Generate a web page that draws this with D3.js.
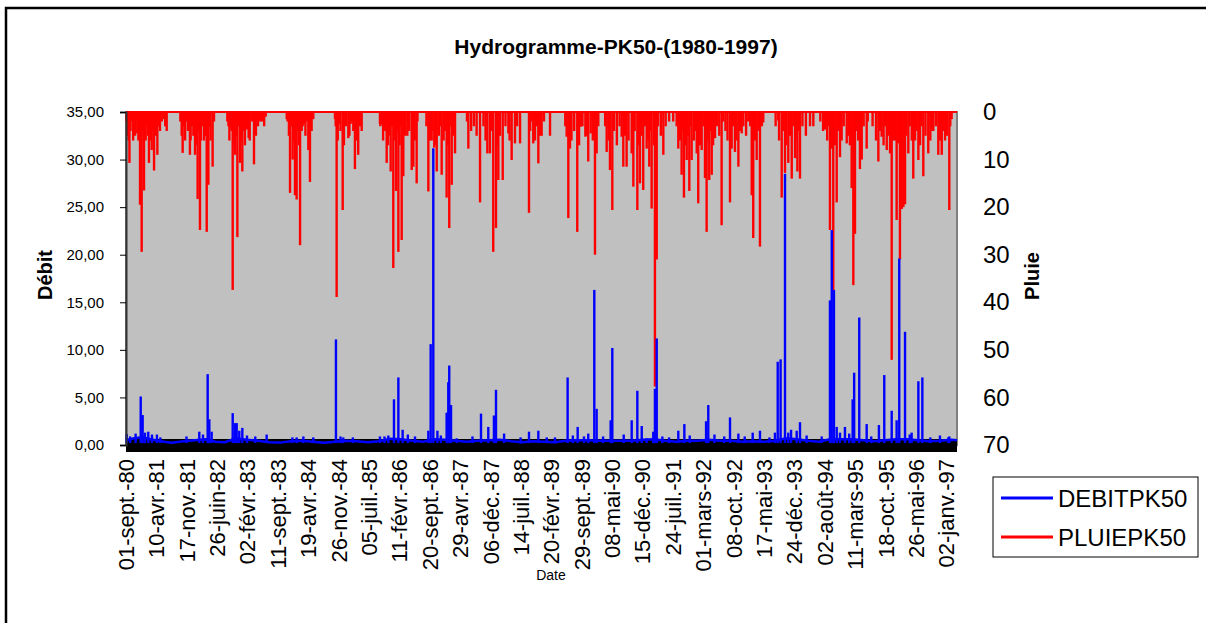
<!DOCTYPE html>
<html>
<head>
<meta charset="utf-8">
<script src="https://cdn.jsdelivr.net/npm/d3@7"></script>
<style>
  body { margin: 0; background: #fff; }
  svg { display: block; font-family: "Liberation Sans", Arial, sans-serif; }
</style>
</head>
<body>
<svg id="chart" width="1206" height="623"></svg>
<script>
// période des données (jours comptés depuis le 01/09/1980)
const debut = new Date(1980, 8, 1);
const fin = new Date(1997, 2, 20);
const pasEtiquettes = 221;

const etiquettesDates = [
  '01-sept.-80', '10-avr.-81', '17-nov.-81', '26-juin-82', '02-févr.-83', '11-sept.-83', '19-avr.-84',
  '26-nov.-84', '05-juil.-85', '11-févr.-86', '20-sept.-86', '29-avr.-87', '06-déc.-87', '14-juil.-88',
  '20-févr.-89', '29-sept.-89', '08-mai-90', '15-déc.-90', '24-juil.-91', '01-mars-92', '08-oct.-92',
  '17-mai-93', '24-déc.-93', '02-août-94', '11-mars-95', '18-oct.-95', '26-mai-96', '02-janv.-97',
];
const debitTicks = [0, 5, 10, 15, 20, 25, 30, 35];
const pluieTicks = [0, 10, 20, 30, 40, 50, 60, 70];

// débit de base (étiage), [jour, m3/s]
const debitBase = [
  [0, 0.5], [60, 0.7], [120, 0.8], [180, 0.6], [250, 0.4], [330, 0.25], [420, 0.4], [500, 0.5], [580, 0.6],
  [650, 0.35], [720, 0.3], [800, 0.7], [880, 0.55], [960, 0.45], [1040, 0.3], [1120, 0.25], [1200, 0.4],
  [1280, 0.45], [1360, 0.35], [1440, 0.25], [1520, 0.35], [1600, 0.45], [1680, 0.4], [1760, 0.3],
  [1840, 0.4], [1920, 0.65], [2000, 0.6], [2080, 0.45], [2160, 0.35], [2240, 0.6], [2320, 0.55],
  [2400, 0.45], [2480, 0.35], [2560, 0.45], [2640, 0.5], [2720, 0.55], [2800, 0.4], [2880, 0.3],
  [2960, 0.4], [3040, 0.35], [3120, 0.3], [3200, 0.45], [3280, 0.5], [3360, 0.5], [3440, 0.45],
  [3520, 0.45], [3600, 0.45], [3680, 0.45], [3760, 0.55], [3840, 0.6], [3920, 0.45], [4000, 0.35],
  [4080, 0.45], [4160, 0.45], [4240, 0.55], [4320, 0.45], [4400, 0.45], [4480, 0.35], [4560, 0.4],
  [4640, 0.35], [4720, 0.45], [4800, 0.7], [4880, 0.6], [4960, 0.45], [5040, 0.35], [5120, 0.6],
  [5200, 0.6], [5280, 0.6], [5360, 0.5], [5440, 0.4], [5520, 0.5], [5600, 0.6], [5680, 0.6],
  [5760, 0.5], [5840, 0.4], [5920, 0.45], [6000, 0.55], [6044, 0.5],
];

// crues, [jour, m3/s]
const debitPics = [
  [5, 1.15], [30, 0.9], [70, 1.2], [107, 5.1], [121, 3.15], [138, 1.3], [162, 1.4], [189, 1.1], [225, 1.1],
  [250, 0.8], [440, 0.9], [533, 1.4], [560, 1.1], [594, 7.45], [606, 2.7], [623, 1.4], [776, 3.35],
  [793, 2.3], [805, 2.3], [824, 1.5], [846, 1.8], [880, 1.0], [940, 0.9], [1023, 1.1], [1210, 0.8],
  [1241, 0.8], [1290, 0.9], [1362, 0.8], [1527, 11.1], [1560, 0.9], [1580, 0.8], [1650, 0.8],
  [1847, 0.9], [1880, 0.9], [1908, 1.0], [1949, 4.8], [1981, 7.1], [2012, 1.6], [2050, 1.1],
  [2102, 0.9], [2199, 1.5], [2216, 10.6], [2235, 31.2], [2265, 1.5], [2290, 1.0], [2332, 3.4],
  [2344, 6.6], [2351, 8.35], [2364, 4.2], [2405, 0.7], [2520, 0.9], [2582, 3.3], [2635, 1.9],
  [2676, 3.1], [2691, 5.8], [2750, 1.2], [2870, 0.8], [2931, 1.4], [2999, 1.5], [3060, 0.8],
  [3120, 0.8], [3212, 7.1], [3250, 1.0], [3285, 1.9], [3331, 0.9], [3362, 1.2], [3406, 16.3],
  [3423, 3.8], [3470, 0.9], [3525, 2.6], [3537, 10.2], [3620, 1.1], [3678, 2.6], [3719, 5.7],
  [3751, 2.0], [3787, 0.7], [3835, 1.4], [3847, 5.9], [3860, 11.2], [3901, 0.9], [3950, 0.8],
  [4017, 1.5], [4061, 2.2], [4100, 1.0], [4219, 2.5], [4235, 4.2], [4280, 1.1], [4351, 0.9],
  [4393, 2.9], [4454, 1.2], [4500, 0.9], [4558, 1.3], [4611, 1.5], [4680, 0.8], [4720, 1.3],
  [4740, 8.75], [4761, 9.0], [4793, 28.5], [4817, 1.3], [4837, 1.6], [4878, 1.5], [4902, 2.4],
  [4950, 1.0], [5060, 0.9], [5120, 15.2], [5133, 22.6], [5149, 16.3], [5169, 1.9], [5193, 1.3],
  [5229, 1.9], [5260, 1.2], [5285, 4.8], [5296, 7.6], [5333, 13.4], [5387, 2.2], [5420, 0.9],
  [5476, 2.1], [5515, 7.35], [5569, 3.6], [5605, 2.6], [5624, 19.6], [5666, 11.9], [5700, 1.1],
  [5714, 1.3], [5763, 6.7], [5792, 7.1], [5850, 0.8], [5920, 1.0], [5981, 0.8], [5988, 0.9],
];

// pluies journalières marquées, [jour, mm]
const pluieFortes = [
  [25, 10.7], [46, 1], [82, 4.5], [102, 19.5], [114, 29.4], [131, 16.5], [155, 3], [167, 10.7], [187, 8],
  [204, 12.3], [228, 9], [247, 4], [296, 4], [412, 8.6], [465, 9], [502, 9], [521, 18.3], [538, 24.8],
  [567, 6], [587, 25.2], [599, 15.3], [630, 11.5], [737, 2], [761, 3.5], [776, 37.4], [793, 9],
  [810, 26.3], [829, 10.7], [846, 12.5], [878, 3.7], [892, 5.5], [931, 11], [975, 2], [1016, 1],
  [1169, 1.5], [1193, 17], [1212, 10], [1229, 17.5], [1241, 18.4], [1266, 28], [1278, 4], [1295, 2.5],
  [1326, 8], [1338, 14.7], [1362, 1.5], [1520, 1.5], [1532, 38.9], [1551, 2.5], [1576, 20.6],
  [1593, 2.2], [1617, 5.5], [1634, 2.5], [1653, 4], [1665, 12], [1689, 9], [1714, 4], [1847, 2.5],
  [1860, 2.6], [1884, 4], [1896, 10.7], [1925, 12.5], [1944, 32.8], [1964, 16.6], [1981, 29.4],
  [2005, 26.9], [2017, 13.5], [2046, 5], [2078, 12.2], [2090, 11.5], [2114, 15], [2199, 16.7],
  [2223, 6], [2242, 7.5], [2260, 12.5], [2296, 13.2], [2332, 18], [2351, 24.4], [2369, 15.3],
  [2393, 8.7], [2490, 7.7], [2575, 19], [2628, 8.7], [2647, 8.7], [2671, 29.4], [2691, 24.4],
  [2708, 14.3], [2740, 14.3], [2781, 4.5], [2805, 10.1], [2829, 6.6], [2866, 6.6], [2931, 21.2],
  [2962, 6.6], [2999, 10.8], [3023, 5], [3084, 5], [3205, 5.2], [3217, 22.3], [3229, 7.7],
  [3282, 25.2], [3307, 3.1], [3341, 5.2], [3362, 10.4], [3380, 4.5], [3411, 30], [3423, 8.7],
  [3496, 8.4], [3520, 12.2], [3537, 20.6], [3605, 5.2], [3617, 11.5], [3641, 11.5], [3678, 8.7],
  [3690, 15.7], [3719, 20.6], [3738, 15], [3762, 16.4], [3787, 7.7], [3806, 11.5], [3823, 20.3],
  [3847, 57.7], [3860, 31], [3908, 9], [4017, 7.7], [4041, 13.2], [4058, 18], [4078, 10.1],
  [4097, 16.6], [4114, 10.1], [4151, 8.7], [4162, 19.2], [4187, 8], [4211, 13.9], [4223, 25.2],
  [4242, 14.3], [4260, 13.2], [4284, 5.5], [4332, 23.8], [4344, 2], [4393, 19], [4405, 7.7],
  [4429, 8.4], [4454, 11.5], [4478, 4.5], [4526, 2], [4551, 17.5], [4562, 26.5], [4587, 10.1],
  [4611, 28.3], [4635, 2.2], [4744, 1.8], [4769, 18], [4793, 12.8], [4817, 10.7], [4842, 14],
  [4866, 9.7], [4883, 12.5], [4902, 14], [4975, 3], [4999, 3], [5084, 3.7], [5120, 24.8],
  [5133, 7.7], [5144, 37.8], [5169, 19], [5193, 9.5], [5242, 6.6], [5278, 16], [5290, 36.4],
  [5302, 25.6], [5338, 12], [5351, 10], [5387, 7.7], [5472, 10.4], [5496, 5.2], [5533, 8],
  [5557, 8.7], [5569, 52.1], [5593, 6], [5605, 22.7], [5617, 6.6], [5629, 31], [5642, 20.4],
  [5654, 20], [5666, 19.4], [5690, 8.7], [5726, 14], [5739, 6], [5763, 10.1], [5799, 13.5],
  [5835, 8.7], [5872, 4], [5908, 9], [5933, 9], [5957, 6], [5988, 20.6], [6005, 1.5],
];

// petites pluies, [jour, mm]
const pluieFaibles = [
  [3, 2], [8, 5], [14, 3], [19, 6], [33, 4], [40, 2], [52, 6], [58, 3], [66, 5], [72, 2], [90, 6], [96, 3],
  [110, 7], [125, 4], [143, 6], [150, 2], [160, 5], [174, 3], [180, 6], [195, 4], [210, 2], [216, 5],
  [236, 3], [260, 2], [275, 1.5], [285, 3],
  [395, 2], [405, 5], [420, 3], [430, 6], [440, 2], [450, 4], [470, 6], [480, 3], [490, 5], [510, 7],
  [530, 4], [545, 6], [555, 3], [575, 5], [605, 3], [615, 6], [640, 2],
  [745, 3], [752, 6], [768, 4], [785, 7], [800, 5], [818, 3], [835, 6], [855, 4], [865, 7], [885, 3],
  [900, 6], [915, 2], [945, 5], [960, 3], [990, 2], [1005, 3],
  [1175, 2], [1185, 5], [1200, 3], [1220, 6], [1250, 4], [1258, 7], [1285, 3], [1305, 5], [1315, 2], [1350, 4],
  [1525, 3], [1540, 6], [1560, 4], [1585, 7], [1600, 3], [1625, 5], [1645, 2], [1675, 6], [1700, 3],
  [1850, 3], [1870, 6], [1880, 4], [1905, 7], [1915, 5], [1935, 3], [1955, 6], [1970, 4], [1990, 7],
  [2000, 3], [2030, 5], [2060, 4], [2100, 6], [2120, 2],
  [2185, 3], [2210, 6], [2230, 4], [2250, 7], [2275, 5], [2285, 3], [2310, 6], [2320, 4], [2340, 7],
  [2360, 3], [2380, 5],
  [2480, 2], [2510, 4], [2530, 3], [2550, 5], [2600, 3], [2615, 6], [2660, 4], [2700, 7], [2720, 5],
  [2760, 3], [2790, 6], [2845, 3],
  [2940, 4], [2950, 2], [2975, 6], [2990, 3], [3010, 5], [3040, 2],
  [3195, 3], [3240, 6], [3260, 4], [3295, 7], [3320, 3], [3350, 5], [3395, 6], [3435, 3],
  [3485, 3], [3510, 6], [3550, 4], [3570, 7], [3590, 3], [3630, 5], [3655, 6], [3700, 4], [3730, 7],
  [3750, 5], [3775, 3], [3795, 6], [3815, 4], [3840, 7], [3870, 3], [3890, 5], [3925, 3], [3950, 2], [3980, 2],
  [4005, 3], [4030, 6], [4050, 4], [4070, 7], [4085, 5], [4105, 3], [4130, 6], [4140, 4], [4175, 7],
  [4200, 3], [4235, 6], [4250, 4], [4270, 7], [4300, 3], [4315, 5], [4360, 4], [4375, 6], [4415, 3],
  [4440, 6], [4465, 4], [4490, 3], [4510, 5], [4540, 3], [4575, 6], [4600, 4], [4625, 3],
  [4725, 3], [4750, 6], [4780, 4], [4800, 7], [4830, 5], [4855, 3], [4875, 6], [4895, 4], [4920, 3], [4945, 5],
  [5050, 2], [5070, 4], [5100, 6], [5110, 3], [5155, 7], [5180, 4], [5205, 6], [5220, 3], [5255, 5],
  [5265, 7], [5315, 4], [5325, 6], [5365, 3], [5395, 2],
  [5430, 3], [5455, 6], [5485, 4], [5510, 7], [5520, 3], [5545, 5], [5580, 6], [5635, 4], [5660, 7],
  [5675, 5], [5700, 3], [5715, 6], [5750, 4], [5775, 7], [5785, 3], [5815, 5], [5850, 6], [5860, 4],
  [5890, 3], [5920, 6], [5945, 4], [5970, 5], [5995, 3],
];

const plot = { left: 126, right: 957, top: 112, bottom: 445 };
const jour = d => d3.timeDay.offset(debut, d);

const x = d3.scaleTime().domain([debut, fin]).range([plot.left, plot.right]);
const yDebit = d3.scaleLinear().domain([0, 35]).range([plot.bottom, plot.top]);
const yPluie = d3.scaleLinear().domain([0, 70]).range([plot.top, plot.bottom]);

const svg = d3.select('#chart');

// cadre général
svg.append('rect')
  .attr('x', 6).attr('y', 8).attr('width', 1220).attr('height', 640)
  .attr('fill', '#fff').attr('stroke', '#000').attr('stroke-width', 2.5);

svg.append('text')
  .attr('x', 616).attr('y', 54)
  .attr('text-anchor', 'middle')
  .style('font-size', '21px').style('font-weight', 'bold')
  .text('Hydrogramme-PK50-(1980-1997)');

// zone de tracé
svg.append('rect')
  .attr('x', plot.left).attr('y', plot.top)
  .attr('width', plot.right - plot.left).attr('height', plot.bottom - plot.top)
  .attr('fill', '#c0c0c0').attr('stroke', '#808080').attr('stroke-width', 2);

// bande noire de l'axe horizontal
svg.append('rect')
  .attr('x', plot.left).attr('y', yDebit(0) - 6)
  .attr('width', plot.right - plot.left).attr('height', 13)
  .attr('fill', '#000');

// pluie (axe inversé, depuis le haut)
const gPluie = svg.append('g');
gPluie.append('line')
  .attr('x1', x(debut)).attr('x2', x(fin))
  .attr('y1', yPluie(0)).attr('y2', yPluie(0))
  .attr('stroke', '#ff0000').attr('stroke-width', 2);
gPluie.selectAll('line.pluie')
  .data(pluieFaibles.concat(pluieFortes)).enter().append('line')
  .attr('class', 'pluie')
  .attr('x1', d => x(jour(d[0]))).attr('x2', d => x(jour(d[0])))
  .attr('y1', yPluie(0)).attr('y2', d => yPluie(d[1]))
  .attr('stroke', '#ff0000').attr('stroke-width', 2.4);

// débit
const gDebit = svg.append('g');
gDebit.append('path')
  .datum(debitBase)
  .attr('fill', 'none').attr('stroke', '#0000ff').attr('stroke-width', 2.5)
  .attr('d', d3.line().x(d => x(jour(d[0]))).y(d => yDebit(d[1])));
gDebit.selectAll('line.debit')
  .data(debitPics).enter().append('line')
  .attr('class', 'debit')
  .attr('x1', d => x(jour(d[0]))).attr('x2', d => x(jour(d[0])))
  .attr('y1', yDebit(0.2)).attr('y2', d => yDebit(d[1]))
  .attr('stroke', '#0000ff').attr('stroke-width', 2.4);

// axe gauche (débit)
const axeGauche = svg.append('g')
  .attr('transform', `translate(${plot.left},0)`)
  .call(d3.axisLeft(yDebit).tickValues(debitTicks).tickSize(6).tickPadding(16)
    .tickFormat(d => d3.format('.2f')(d).replace('.', ',')));
axeGauche.select('.domain').attr('stroke', '#333').attr('stroke-width', 2);
axeGauche.selectAll('.tick line').attr('stroke', '#000');
axeGauche.selectAll('text').style('font-size', '15px').attr('fill', '#000')
  .style('font-family', '"Liberation Sans", Arial, sans-serif');

// axe droit (pluie)
const axeDroit = svg.append('g')
  .attr('transform', `translate(${plot.right},0)`)
  .call(d3.axisRight(yPluie).tickValues(pluieTicks).tickSize(0).tickPadding(26));
axeDroit.select('.domain').remove();
axeDroit.selectAll('text').style('font-size', '24px').attr('fill', '#000')
  .style('font-family', '"Liberation Sans", Arial, sans-serif');

// étiquettes de dates
svg.append('g').selectAll('text')
  .data(etiquettesDates).enter().append('text')
  .attr('transform', (d, i) => `translate(${x(jour(i * pasEtiquettes))},459) rotate(-90)`)
  .attr('text-anchor', 'end')
  .attr('dy', '0.36em')
  .style('font-size', '22px')
  .text(d => d);

// titres d'axes
svg.append('text')
  .attr('transform', 'translate(52,275) rotate(-90)')
  .attr('text-anchor', 'middle')
  .style('font-size', '20px').style('font-weight', 'bold')
  .text('Débit');
svg.append('text')
  .attr('transform', 'translate(1039,276) rotate(-90)')
  .attr('text-anchor', 'middle')
  .style('font-size', '20px').style('font-weight', 'bold')
  .text('Pluie');
svg.append('text')
  .attr('x', 551).attr('y', 580)
  .attr('text-anchor', 'middle')
  .style('font-size', '14px')
  .text('Date');

// légende
const legende = svg.append('g');
legende.append('rect')
  .attr('x', 993).attr('y', 477).attr('width', 205).attr('height', 80)
  .attr('fill', '#fff').attr('stroke', '#000').attr('stroke-width', 1);
const series = [
  { nom: 'DEBITPK50', couleur: '#0000ff' },
  { nom: 'PLUIEPK50', couleur: '#ff0000' },
];
series.forEach((s, i) => {
  const yy = 498 + i * 39;
  legende.append('line')
    .attr('x1', 1001).attr('x2', 1053).attr('y1', yy).attr('y2', yy)
    .attr('stroke', s.couleur).attr('stroke-width', 3);
  legende.append('text')
    .attr('x', 1058).attr('y', yy).attr('dy', '0.36em')
    .style('font-size', '24px')
    .text(s.nom);
});
</script>
</body>
</html>
